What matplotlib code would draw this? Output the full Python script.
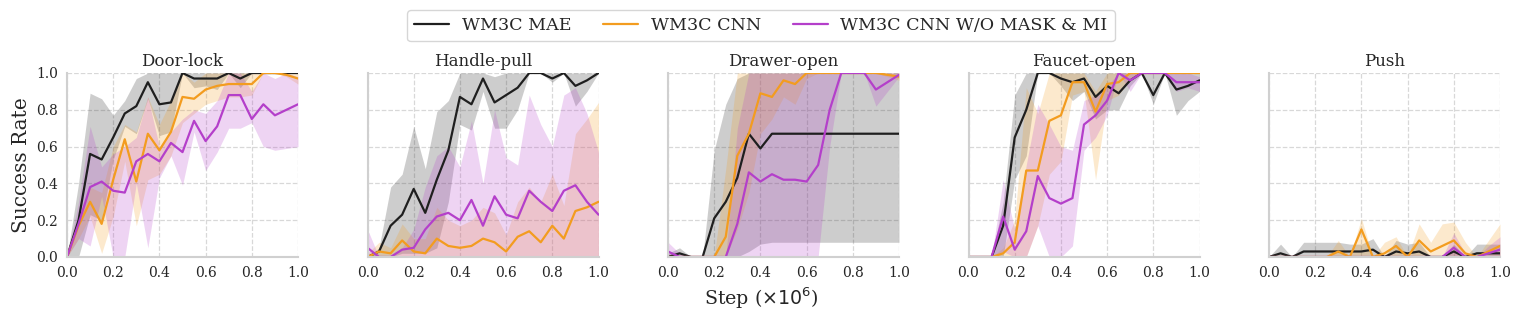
import matplotlib
matplotlib.use("Agg")
import matplotlib.pyplot as plt
import seaborn as sns

steps = [0.0, 0.05, 0.1, 0.15, 0.2, 0.25, 0.3, 0.35, 0.4, 0.45, 0.5,
         0.55, 0.6, 0.65, 0.7, 0.75, 0.8, 0.85, 0.9, 0.95, 1.0]
zeros = [0.0] * 21

tasks = ["Door-lock", "Handle-pull", "Drawer-open", "Faucet-open", "Push"]
methods = ["WM3C MAE", "WM3C CNN", "WM3C CNN W/O MASK & MI"]
colors = ["#1f1f1f", "#f39c1f", "#b43fca"]

# Door-lock
door_mae = [0.0, 0.2, 0.56, 0.53, 0.65, 0.78, 0.82, 0.95, 0.83, 0.84, 1.0, 0.97, 0.97, 0.97, 1.0, 0.97, 1.0, 1.0, 1.0, 1.0, 1.0]
door_mae_lo = [0.0, 0.0, 0.23, 0.2, 0.53, 0.71, 0.67, 0.86, 0.66, 0.68, 1.0, 0.92, 0.93, 0.91, 1.0, 0.92, 1.0, 1.0, 1.0, 1.0, 1.0]
door_mae_hi = [0.0, 0.4, 0.89, 0.86, 0.77, 0.85, 0.97, 1.0, 1.0, 1.0, 1.0, 1.0, 1.0, 1.0, 1.0, 1.0, 1.0, 1.0, 1.0, 1.0, 1.0]
door_cnn = [0.0, 0.17, 0.3, 0.18, 0.42, 0.64, 0.41, 0.67, 0.58, 0.68, 0.87, 0.86, 0.91, 0.93, 0.94, 0.94, 0.94, 1.0, 1.0, 0.99, 0.97]
door_cnn_lo = [0.0, 0.1, 0.22, 0.02, 0.22, 0.52, 0.17, 0.42, 0.45, 0.55, 0.73, 0.78, 0.83, 0.85, 0.87, 0.87, 0.88, 1.0, 1.0, 0.98, 0.94]
door_cnn_hi = [0.0, 0.22, 0.38, 0.35, 0.6, 0.72, 0.68, 0.87, 0.72, 0.85, 1.0, 0.95, 1.0, 1.0, 1.0, 1.0, 1.0, 1.0, 1.0, 1.0, 1.0]
door_nomi = [0.0, 0.18, 0.38, 0.41, 0.36, 0.35, 0.52, 0.56, 0.52, 0.62, 0.57, 0.74, 0.63, 0.71, 0.88, 0.88, 0.75, 0.83, 0.77, 0.8, 0.83]
door_nomi_lo = [0.0, 0.1, 0.06, 0.33, 0.0, 0.0, 0.4, 0.05, 0.43, 0.55, 0.39, 0.68, 0.47, 0.57, 0.7, 0.7, 0.73, 0.6, 0.58, 0.59, 0.6]
door_nomi_hi = [0.0, 0.3, 0.71, 0.49, 0.56, 0.6, 0.65, 0.87, 0.6, 0.68, 0.75, 0.8, 0.78, 0.85, 1.0, 1.0, 0.9, 1.0, 0.97, 1.0, 0.98]

# Handle-pull
handle_mae = [0.0, 0.03, 0.17, 0.23, 0.37, 0.24, 0.42, 0.58, 0.87, 0.83, 0.97, 0.84, 0.88, 0.92, 1.0, 1.0, 0.97, 1.0, 0.93, 0.96, 1.0]
handle_mae_lo = [0.0, 0.0, 0.0, 0.02, 0.02, 0.02, 0.05, 0.3, 0.72, 0.69, 0.9, 0.7, 0.7, 0.8, 1.0, 1.0, 0.95, 1.0, 0.82, 0.9, 1.0]
handle_mae_hi = [0.0, 0.05, 0.38, 0.45, 0.71, 0.48, 0.79, 0.85, 1.0, 1.0, 1.0, 0.98, 1.0, 1.0, 1.0, 1.0, 1.0, 1.0, 1.0, 1.0, 1.0]
handle_cnn = [0.0, 0.03, 0.02, 0.09, 0.03, 0.02, 0.1, 0.06, 0.05, 0.06, 0.1, 0.08, 0.03, 0.11, 0.14, 0.08, 0.17, 0.1, 0.25, 0.27, 0.3]
handle_cnn_lo = zeros
handle_cnn_hi = [0.02, 0.08, 0.05, 0.18, 0.1, 0.1, 0.27, 0.2, 0.17, 0.2, 0.27, 0.24, 0.12, 0.3, 0.38, 0.3, 0.45, 0.28, 0.67, 0.75, 0.84]
handle_nomi = [0.05, 0.0, 0.0, 0.04, 0.05, 0.15, 0.22, 0.24, 0.2, 0.31, 0.17, 0.33, 0.23, 0.21, 0.36, 0.3, 0.25, 0.36, 0.39, 0.3, 0.23]
handle_nomi_lo = zeros
handle_nomi_hi = [0.15, 0.0, 0.0, 0.05, 0.15, 0.38, 0.55, 0.6, 0.49, 0.74, 0.4, 0.8, 0.54, 0.5, 0.88, 0.72, 0.6, 0.88, 0.92, 0.78, 0.57]

# Drawer-open
drawer_mae = [0.0, 0.02, 0.0, 0.0, 0.21, 0.3, 0.43, 0.67, 0.59, 0.67, 0.67, 0.67, 0.67, 0.67, 0.67, 0.67, 0.67, 0.67, 0.67, 0.67, 0.67]
drawer_mae_lo = [0.0, 0.0, 0.0, 0.0, 0.0, 0.0, 0.0, 0.03, 0.07, 0.08, 0.08, 0.08, 0.08, 0.08, 0.08, 0.08, 0.08, 0.08, 0.08, 0.08, 0.08]
drawer_mae_hi = [0.02, 0.05, 0.0, 0.0, 0.58, 0.83, 0.97, 1.0, 1.0, 1.0, 1.0, 1.0, 1.0, 1.0, 1.0, 1.0, 1.0, 1.0, 1.0, 1.0, 1.0]
drawer_cnn = [0.0, 0.0, 0.0, 0.0, 0.0, 0.11, 0.55, 0.67, 0.89, 0.87, 0.96, 0.94, 1.0, 1.0, 1.0, 1.0, 1.0, 1.0, 1.0, 0.99, 0.98]
drawer_cnn_lo = [0.0, 0.0, 0.0, 0.0, 0.0, 0.0, 0.15, 0.35, 0.67, 0.75, 0.87, 0.83, 0.97, 1.0, 1.0, 1.0, 1.0, 1.0, 1.0, 0.98, 0.96]
drawer_cnn_hi = [0.0, 0.0, 0.0, 0.0, 0.0, 0.48, 1.0, 1.0, 1.0, 1.0, 1.0, 1.0, 1.0, 1.0, 1.0, 1.0, 1.0, 1.0, 1.0, 1.0, 1.0]
drawer_nomi = [0.03, 0.0, 0.0, 0.0, 0.0, 0.0, 0.18, 0.46, 0.41, 0.45, 0.42, 0.42, 0.41, 0.5, 0.8, 1.0, 1.0, 1.0, 0.91, 0.95, 0.99]
drawer_nomi_lo = [0.0, 0.0, 0.0, 0.0, 0.0, 0.0, 0.0, 0.0, 0.0, 0.0, 0.0, 0.0, 0.0, 0.0, 0.6, 1.0, 1.0, 1.0, 0.82, 0.9, 0.98]
drawer_nomi_hi = [0.08, 0.02, 0.0, 0.0, 0.0, 0.0, 0.7, 1.0, 1.0, 1.0, 1.0, 1.0, 1.0, 1.0, 1.0, 1.0, 1.0, 1.0, 1.0, 1.0, 1.0]

# Faucet-open
faucet_mae = [0.0, 0.0, 0.0, 0.17, 0.65, 0.8, 1.0, 1.0, 0.97, 0.95, 0.97, 0.87, 0.93, 0.89, 0.96, 1.0, 0.88, 1.0, 0.91, 0.93, 0.96]
faucet_mae_lo = [0.0, 0.0, 0.0, 0.0, 0.42, 0.55, 1.0, 1.0, 0.93, 0.85, 0.9, 0.75, 0.8, 0.8, 0.93, 1.0, 0.83, 1.0, 0.77, 0.85, 0.9]
faucet_mae_hi = [0.0, 0.0, 0.0, 0.3, 0.88, 1.0, 1.0, 1.0, 1.0, 1.0, 1.0, 1.0, 1.0, 1.0, 1.0, 1.0, 1.0, 1.0, 1.0, 1.0, 1.0]
faucet_cnn = [0.0, 0.0, 0.0, 0.02, 0.08, 0.47, 0.47, 0.74, 0.77, 0.95, 0.95, 0.79, 0.94, 0.95, 1.0, 1.0, 1.0, 1.0, 1.0, 1.0, 1.0]
faucet_cnn_lo = [0.0, 0.0, 0.0, 0.0, 0.0, 0.0, 0.17, 0.45, 0.52, 0.88, 0.9, 0.42, 0.85, 0.88, 0.97, 1.0, 1.0, 1.0, 1.0, 1.0, 1.0]
faucet_cnn_hi = [0.0, 0.0, 0.0, 0.05, 0.2, 0.92, 0.78, 1.0, 1.0, 1.0, 1.0, 0.9, 1.0, 1.0, 1.0, 1.0, 1.0, 1.0, 1.0, 1.0, 1.0]
faucet_nomi = [0.0, 0.0, 0.0, 0.22, 0.04, 0.14, 0.44, 0.32, 0.29, 0.32, 0.72, 0.77, 0.85, 1.0, 0.96, 1.0, 1.0, 1.0, 0.95, 0.95, 0.95]
faucet_nomi_lo = [0.0, 0.0, 0.0, 0.03, 0.0, 0.0, 0.17, 0.0, 0.0, 0.06, 0.58, 0.65, 0.77, 1.0, 0.9, 1.0, 1.0, 1.0, 0.9, 0.92, 0.9]
faucet_nomi_hi = [0.0, 0.0, 0.0, 0.42, 0.15, 0.5, 0.83, 0.72, 0.6, 0.58, 0.85, 0.88, 0.93, 1.0, 1.0, 1.0, 1.0, 1.0, 1.0, 1.0, 0.98]

# Push
push_mae = [0.0, 0.02, 0.0, 0.03, 0.03, 0.03, 0.03, 0.03, 0.03, 0.04, 0.0, 0.03, 0.02, 0.03, 0.0, 0.0, 0.03, 0.0, 0.02, 0.02, 0.02]
push_mae_lo = zeros
push_mae_hi = [0.0, 0.07, 0.0, 0.08, 0.08, 0.08, 0.08, 0.07, 0.07, 0.1, 0.0, 0.09, 0.07, 0.08, 0.0, 0.0, 0.07, 0.0, 0.07, 0.07, 0.07]
push_cnn = [0.0, 0.0, 0.0, 0.0, 0.0, 0.0, 0.03, 0.0, 0.15, 0.0, 0.02, 0.06, 0.0, 0.09, 0.03, 0.06, 0.09, 0.02, 0.0, 0.03, 0.06]
push_cnn_lo = zeros
push_cnn_hi = [0.0, 0.0, 0.0, 0.0, 0.0, 0.0, 0.09, 0.0, 0.21, 0.0, 0.08, 0.11, 0.0, 0.18, 0.08, 0.18, 0.19, 0.08, 0.0, 0.09, 0.18]
push_nomi = [0.0, 0.0, 0.0, 0.0, 0.0, 0.0, 0.0, 0.0, 0.0, 0.0, 0.0, 0.0, 0.0, 0.0, 0.0, 0.0, 0.05, 0.0, 0.0, 0.02, 0.04]
push_nomi_lo = zeros
push_nomi_hi = [0.0, 0.0, 0.0, 0.0, 0.0, 0.0, 0.0, 0.0, 0.0, 0.0, 0.0, 0.0, 0.0, 0.0, 0.0, 0.0, 0.13, 0.02, 0.0, 0.06, 0.11]

panels = [
    [(door_mae, door_mae_lo, door_mae_hi), (door_cnn, door_cnn_lo, door_cnn_hi), (door_nomi, door_nomi_lo, door_nomi_hi)],
    [(handle_mae, handle_mae_lo, handle_mae_hi), (handle_cnn, handle_cnn_lo, handle_cnn_hi), (handle_nomi, handle_nomi_lo, handle_nomi_hi)],
    [(drawer_mae, drawer_mae_lo, drawer_mae_hi), (drawer_cnn, drawer_cnn_lo, drawer_cnn_hi), (drawer_nomi, drawer_nomi_lo, drawer_nomi_hi)],
    [(faucet_mae, faucet_mae_lo, faucet_mae_hi), (faucet_cnn, faucet_cnn_lo, faucet_cnn_hi), (faucet_nomi, faucet_nomi_lo, faucet_nomi_hi)],
    [(push_mae, push_mae_lo, push_mae_hi), (push_cnn, push_cnn_lo, push_cnn_hi), (push_nomi, push_nomi_lo, push_nomi_hi)],
]

sns.set_style("whitegrid", {"grid.linestyle": "--", "axes.edgecolor": "#d0d0d0"})
plt.rcParams["font.family"] = ["DejaVu Serif"]

W, H = 1522, 319
fig = plt.figure(figsize=(W / 100, H / 100), dpi=100)

ax_w = 231 / W
ax_h = 184 / H
ax_b = (H - 257) / H
lefts = [67, 367.5, 668, 968.5, 1269]

handles = []
for i, task in enumerate(tasks):
    ax = fig.add_axes([lefts[i] / W, ax_b, ax_w, ax_h])
    for j, (mean, lo, hi) in enumerate(panels[i]):
        ax.fill_between(steps, lo, hi, color=colors[j], alpha=0.22, linewidth=0)
        line, = ax.plot(steps, mean, color=colors[j], lw=1.6, label=methods[j])
        if i == 0:
            handles.append(line)
    ax.set_xlim(0, 1)
    ax.set_ylim(0, 1)
    ax.set_xticks([0.0, 0.2, 0.4, 0.6, 0.8, 1.0])
    ax.set_yticks([0.0, 0.2, 0.4, 0.6, 0.8, 1.0])
    ax.grid(True, linestyle="--", color="#d8d8d8", linewidth=0.9)
    ax.tick_params(labelsize=10, pad=3)
    ax.set_title(task, fontsize=12, pad=5)
    for s in ["top", "right"]:
        ax.spines[s].set_visible(False)
    for s in ["left", "bottom"]:
        ax.spines[s].set_color("#d0d0d0")
        ax.spines[s].set_linewidth(1.5)
    if i == 0:
        ax.set_ylabel("Success Rate", fontsize=14.5, labelpad=4)
    else:
        ax.set_yticklabels([])

fig.text(0.5, 1 - 298 / H, r"Step ($\times 10^6$)", fontsize=13.7, ha="center", va="center")

fig.legend(handles, methods, loc="upper center", bbox_to_anchor=(0.5, 0.968),
           ncol=3, frameon=True, prop={"family": "DejaVu Serif", "size": 12.6},
           handlelength=2.0, handletextpad=0.7, columnspacing=1.85,
           edgecolor="#cccccc", fancybox=True, borderpad=0.4, borderaxespad=0.0)

fig.savefig("out.png", dpi=100)
